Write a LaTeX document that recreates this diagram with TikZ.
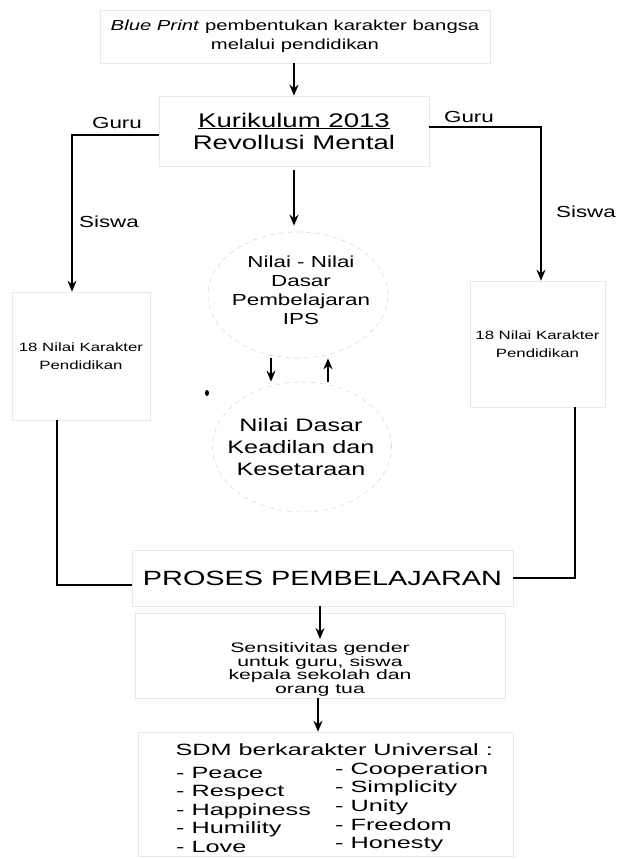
\documentclass[tikz,border=0pt]{standalone}
\usepackage{fontspec}
\setmainfont{Liberation Sans}[FakeStretch=1.4]
\newfontfamily\widerfont{Liberation Sans}[FakeStretch=1.55]
\usepackage{tikz}
\usetikzlibrary{arrows.meta, shapes.geometric, positioning}

\newcommand{\fsz}[2]{\fontsize{#1}{#2}\selectfont}

\tikzset{
    faintbox/.style={draw=black!9, line width=0.6pt, inner sep=0pt},
    faintring/.style={ellipse, draw=black!14, dash pattern=on 5pt off 4pt, line width=0.6pt, inner sep=0pt},
    flow/.style={-{Stealth[length=11pt, width=9pt]}, line width=1.5pt},
    link/.style={line width=1.5pt}
}

\begin{document}
\begin{tikzpicture}[x=1pt, y=1pt]
                                \useasboundingbox (0, 0) rectangle (623, -859);

                                \node[faintbox, minimum width=390pt, minimum height=53pt, align=center, font=\fsz{14.5}{19}] (blue) at (295, -36.5) {\textit{Blue Print} pembentukan karakter bangsa\\melalui pendidikan};
                                \node[faintbox, minimum width=270pt, minimum height=70pt, align=center, font=\fsz{19.7}{22}] (kur) at (294, -131) {\underline{Kurikulum 2013}\\Revollusi Mental};
                                \node[font=\fsz{16}{19}] (guruL) at (117, -123) {Guru};
                                \node[font=\fsz{16}{19}] (siswaL) at (109, -222) {Siswa};
                                \node[font=\fsz{16}{19}] (guruR) at (469, -117) {Guru};
                                \node[font=\fsz{16}{19}] (siswaR) at (586, -212) {Siswa};

                                \node[faintbox, minimum width=138pt, minimum height=128pt, align=center, font=\fsz{12}{18}] (karL) at (81, -356) {18 Nilai Karakter\\Pendidikan};
                                \node[faintbox, minimum width=135pt, minimum height=126pt, align=center, font=\fsz{12}{18}] (karR) at (537.5, -344) {18 Nilai Karakter\\Pendidikan};

                                \node[faintring, minimum width=180pt, minimum height=126pt] (ipsring) at (298, -295) {};
                                \node[align=center, font=\fsz{16}{19}] (ips) at (301, -290) {Nilai - Nilai\\Dasar\\Pembelajaran\\IPS};
                                \node[faintring, minimum width=179pt, minimum height=130pt] (kedring) at (302, -447) {};
                                \node[align=center, font=\fsz{18}{22}] (ked) at (301, -447) {Nilai Dasar\\Keadilan dan\\Kesetaraan};
                                \fill (207, -393) ellipse (2 and 3);

                                \node[faintbox, minimum width=381pt, minimum height=56pt, font=\fsz{20.6}{24}] (proses) at (322.5, -578) {PROSES PEMBELAJARAN};

                                \node[faintbox, minimum width=370pt, minimum height=85pt] (sensbox) at (320, -655.5) {};
                                \node[align=center, font={\widerfont\fsz{13.7}{13.7}}] (sens) at (320, -669.5) {Sensitivitas gender\\untuk guru, siswa\\kepala sekolah dan\\orang tua};

                                \node[faintbox, minimum width=375pt, minimum height=124pt] (sdmbox) at (325.5, -794) {};
                                \node[anchor=west, font={\widerfont\fsz{16.3}{18.5}}] (sdm) at (172, -750) {SDM berkarakter Universal :};
                                \node[anchor=north west, align=left, inner sep=0pt, font={\widerfont\fsz{16.3}{18.5}}] (sdmL) at (176, -767) {- Peace\\- Respect\\- Happiness\\- Humility\\- Love};
                                \node[anchor=north west, align=left, inner sep=0pt, font={\widerfont\fsz{16.3}{18.7}}] (sdmR) at (335, -762) {- Cooperation\\- Simplicity\\- Unity\\- Freedom\\- Honesty};

                                \draw[flow] (kur.north |- blue.south) -- (kur.north);
                                \draw[flow, shorten <=4pt, shorten >=6pt] (kur.south) -- (kur.south |- ipsring.north);
                                \draw[flow] ([yshift=-4]kur.west) -| ([xshift=-9]karL.north);
                                \draw[flow] ([yshift=4]kur.east) -| ([xshift=3.5]karR.north);
                                \draw[flow] ([xshift=-27]ipsring.south) -- ([xshift=-27]ipsring.south |- kedring.north);
                                \draw[flow] ([xshift=26]kedring.north) -- ([xshift=26]kedring.north |- ipsring.south);
                                \draw[link] ([xshift=-24]karL.south) |- ([yshift=-7]proses.west);
                                \draw[link] ([xshift=37.5]karR.south) |- (proses.east);
                                \draw[flow] (proses.south -| sens.north) -- (sens.north);
                                \draw[flow] (sensbox.south -| 318, 0) -- (sdmbox.north -| 318, 0);
                            \end{tikzpicture}
\end{document}
